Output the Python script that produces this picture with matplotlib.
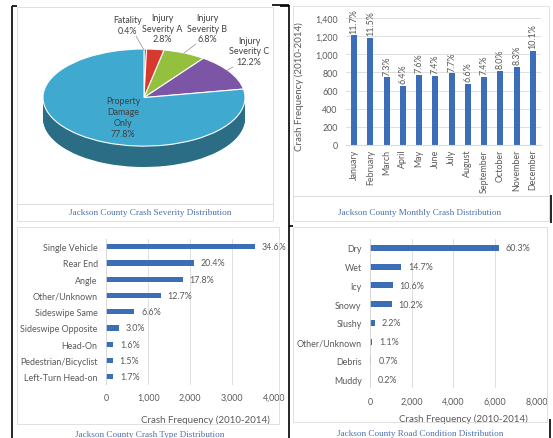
import numpy as np
import matplotlib.pyplot as plt
from matplotlib.patches import Rectangle

W, H = 553, 439

sev_labels = ['Fatality\n0.4%', 'Injury\nSeverity A\n2.8%', 'Injury\nSeverity B\n6.8%',
              'Injury\nSeverity C\n12.2%', 'Property\nDamage\nOnly\n77.8%']
sev_pct = [0.4, 2.8, 6.8, 12.2, 77.8]
sev_colors = ['#2f4f8f', '#d63a2f', '#93c13e', '#7d55a6', '#3fa9cf']
sev_side = ['#1f3563', '#922720', '#62822a', '#543a70', '#2a6d85']

months = ['January', 'February', 'March', 'April', 'May', 'June', 'July',
          'August', 'September', 'October', 'November', 'December']
month_counts = [1210, 1185, 745, 655, 775, 760, 790, 675, 755, 820, 860, 1040]
month_pct = [11.7, 11.5, 7.3, 6.4, 7.6, 7.4, 7.7, 6.6, 7.4, 8.0, 8.3, 10.1]

type_labels = ['Single Vehicle', 'Rear End', 'Angle', 'Other/Unknown', 'Sideswipe Same',
               'Sideswipe Opposite', 'Head-On', 'Pedestrian/Bicyclist', 'Left-Turn Head-on']
type_counts = [3545, 2090, 1825, 1300, 675, 305, 165, 155, 175]
type_pct = [34.6, 20.4, 17.8, 12.7, 6.6, 3.0, 1.6, 1.5, 1.7]

road_labels = ['Dry', 'Wet', 'Icy', 'Snowy', 'Slushy', 'Other/Unknown', 'Debris', 'Muddy']
road_counts = [6180, 1505, 1085, 1045, 225, 115, 70, 20]
road_pct = [60.3, 14.7, 10.6, 10.2, 2.2, 1.1, 0.7, 0.2]

bar_color = '#3a6fb8'
txt = '#595959'
grid = '#d9d9d9'
title_color = '#4a6fae'
fs = 6.4

plt.rcParams['font.family'] = ['Lato', 'DejaVu Sans']


def px(x0, y0, x1, y1):
    return [x0 / W, 1 - y1 / H, (x1 - x0) / W, (y1 - y0) / H]


fig = plt.figure(figsize=(W / 100, H / 100), dpi=100)

# page background: frames, titles, pie labels
bg = fig.add_axes([0, 0, 1, 1])
bg.set_xlim(0, W)
bg.set_ylim(H, 0)
bg.axis('off')

for (x0, y0, x1, y1) in [(17, 8, 273, 205), (17, 205, 273, 222), (293, 7, 549, 197),
                         (293, 197, 549, 222), (17, 228, 279, 425), (293, 228, 547, 423)]:
    bg.add_patch(Rectangle((x0, y0), x1 - x0, y1 - y0, fill=False, ec='#dcdcdc', lw=0.6))

blk = dict(color='black', lw=1.2, solid_capstyle='butt')
bg.plot([11.5, 11.5], [7, 439], **blk)
bg.plot([11.5, 17], [7, 7], **blk)
bg.plot([272, 289], [6, 6], **blk)
bg.plot([280, 289], [7, 7], **blk)
bg.plot([289, 289], [6, 439], **blk)
bg.plot([289, 293], [227, 227], **blk)
bg.plot([551, 551], [196, 224], **blk)
bg.plot([550, 550], [420, 439], **blk)

tkw = dict(ha='center', va='center', fontsize=6.6, color=title_color, family='Liberation Serif')
bg.text(150, 213, 'Jackson County Crash Severity Distribution', **tkw)
bg.text(420, 213, 'Jackson County Monthly Crash Distribution', **tkw)
bg.text(150, 435, 'Jackson County Crash Type Distribution', **tkw)
bg.text(420, 434, 'Jackson County Road Condition Distribution', **tkw)

# pie label positions (page pixels)
lab_pos = [(128, 26), (162, 29), (207, 29), (249, 52), (123, 118)]
for lab, (lx, ly) in zip(sev_labels, lab_pos):
    bg.text(lx, ly, lab, ha='center', va='center', fontsize=fs, color='#404040', linespacing=1.25)
bg.plot([136, 144], [37, 51], color='#8c8c8c', lw=0.5)
bg.plot([196, 184], [45, 54], color='#8c8c8c', lw=0.5)
bg.plot([233, 226], [68, 72], color='#8c8c8c', lw=0.5)

# 3D-looking pie
pax = fig.add_axes(px(43, 50, 245, 168))
depth = 0.43
for d in np.linspace(depth, 0.01, 30):
    pax.pie(sev_pct, colors=sev_side, startangle=90, counterclock=False,
            center=(0, -d), wedgeprops=dict(linewidth=0))
pax.pie(sev_pct, colors=sev_colors, startangle=90, counterclock=False,
        wedgeprops=dict(edgecolor='white', linewidth=0.8))
pax.set_aspect('auto')
pax.set_xlim(-1, 1)
pax.set_ylim(-1 - depth, 1)
pax.set_zorder(0)
bg.set_zorder(1)
bg.patch.set_visible(False)


def style(ax):
    for s in ax.spines.values():
        s.set_visible(False)
    ax.tick_params(length=0, labelsize=fs, colors=txt)
    ax.set_axisbelow(True)


# monthly
mx = fig.add_axes(px(346, 19.3, 541, 145.7))
xs = np.arange(len(months))
mx.bar(xs, month_counts, width=0.38, color=bar_color)
mx.set_xlim(-0.5, 11.5)
mx.set_ylim(0, 1400)
style(mx)
mx.spines['bottom'].set_visible(True)
mx.spines['bottom'].set_color(grid)
yt = list(range(0, 1401, 200))
mx.set_yticks(yt)
mx.set_yticklabels([f'{v:,}' for v in yt])
mx.tick_params(axis='y', pad=6)
mx.tick_params(axis='x', pad=3)
mx.set_xticks(xs)
mx.set_xticklabels(months, rotation=90)
mx.yaxis.grid(True, color=grid, lw=0.6)
for xi, c, p in zip(xs, month_counts, month_pct):
    mx.annotate(f'{p:.1f}%', (xi, c), xytext=(0, 2), textcoords='offset points',
                rotation=90, ha='center', va='bottom', fontsize=fs, color=txt)
mx.set_ylabel('Crash Frequency (2010-2014)', fontsize=7, color=txt)
mx.yaxis.set_label_coords(-0.215, 0.47)

# crash type
tx = fig.add_axes(px(106, 239.6, 274.3, 385.8))
ys = np.arange(len(type_labels))
tx.barh(ys, type_counts, height=0.32, color=bar_color)
tx.set_ylim(len(type_labels) - 0.5, -0.5)
tx.set_xlim(0, 4000)
style(tx)
xt = list(range(0, 4001, 1000))
tx.set_xticks(xt)
tx.set_xticklabels([f'{v:,}' for v in xt])
tx.set_yticks(ys)
tx.set_yticklabels(type_labels)
tx.tick_params(axis='y', pad=6)
tx.tick_params(axis='x', pad=6)
tx.xaxis.grid(True, color=grid, lw=0.6)
tx.axvline(0, color=grid, lw=0.6)
for yi, c, p in zip(ys, type_counts, type_pct):
    tx.annotate(f'{p:.1f}%', (c, yi), xytext=(5, 0), textcoords='offset points',
                ha='left', va='center', fontsize=fs, color=txt)
tx.set_xlabel('Crash Frequency (2010-2014)', fontsize=7, color=txt)
tx.xaxis.set_label_coords(0.59, -0.2)

# road condition
rx = fig.add_axes(px(370, 239.6, 536.7, 389.4))
ys = np.arange(len(road_labels))
rx.barh(ys, road_counts, height=0.32, color=bar_color)
rx.set_ylim(len(road_labels) - 0.5, -0.5)
rx.set_xlim(0, 8000)
style(rx)
xt = list(range(0, 8001, 2000))
rx.set_xticks(xt)
rx.set_xticklabels([f'{v:,}' for v in xt])
rx.set_yticks(ys)
rx.set_yticklabels(road_labels)
rx.tick_params(axis='y', pad=6)
rx.tick_params(axis='x', pad=6)
rx.xaxis.grid(True, color=grid, lw=0.6)
rx.axvline(0, color=grid, lw=0.6)
for yi, c, p in zip(ys, road_counts, road_pct):
    rx.annotate(f'{p:.1f}%', (c, yi), xytext=(5, 0), textcoords='offset points',
                ha='left', va='center', fontsize=fs, color=txt)
rx.set_xlabel('Crash Frequency (2010-2014)', fontsize=7, color=txt)
rx.xaxis.set_label_coords(0.56, -0.17)

fig.savefig('out.png', dpi=100)
